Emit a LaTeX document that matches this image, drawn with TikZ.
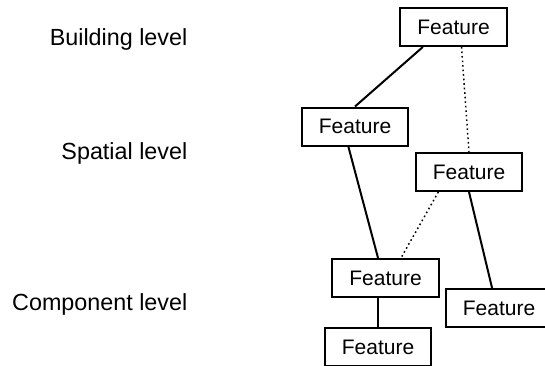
\documentclass[tikz,border=0pt]{standalone}
\usepackage{fontspec}
\setmainfont{Liberation Sans}

\begin{document}
\begin{tikzpicture}[x=0.75pt, y=-0.75pt,
    featbox/.style={draw, rectangle, line width=1.5pt, minimum width=80pt, minimum height=28.5pt, inner sep=0pt, font=\fontsize{15.75}{18}\selectfont},
    lvl/.style={anchor=base east, font=\fontsize{17.5}{21}\selectfont},
    link/.style={line width=1.5pt},
    weak/.style={line width=1.1pt, dash pattern=on 1.2pt off 2.2pt}]
    \useasboundingbox (0,0) rectangle (545,365);

    % Level labels
    \node[lvl] (building) at (192,45) {Building level};
    \node[lvl] (spatial) at (192,159) {Spatial level};
    \node[lvl] (component) at (192,310) {Component level};

    % Features
    \node[featbox] (bfeat) at (453.5,27) {Feature};
    \node[featbox] (sfeat1) at (355,126.5) {Feature};
    \node[featbox] (sfeat2) at (469,172) {Feature};
    \node[featbox] (cfeat1) at (385.5,278) {Feature};
    \node[featbox] (cfeat2) at (499,308) {Feature};
    \node[featbox] (cfeat3) at (378,347) {Feature};

    % Links between levels
    \draw[link] ([xshift=-23pt]bfeat.south) -- (sfeat1.north);
    \draw[weak] ([xshift=6pt]bfeat.south) -- (sfeat2.north);
    \draw[link] ([xshift=-5pt]sfeat1.south) -- ([xshift=-5.6pt]cfeat1.north);
    \draw[weak] ([xshift=-23pt]sfeat2.south) -- ([xshift=11.6pt]cfeat1.north);
    \draw[link] (sfeat2.south) -- ([xshift=-5.2pt]cfeat2.north);
    \draw[link] (cfeat3.north |- cfeat1.south) -- (cfeat3.north);
\end{tikzpicture}
\end{document}
